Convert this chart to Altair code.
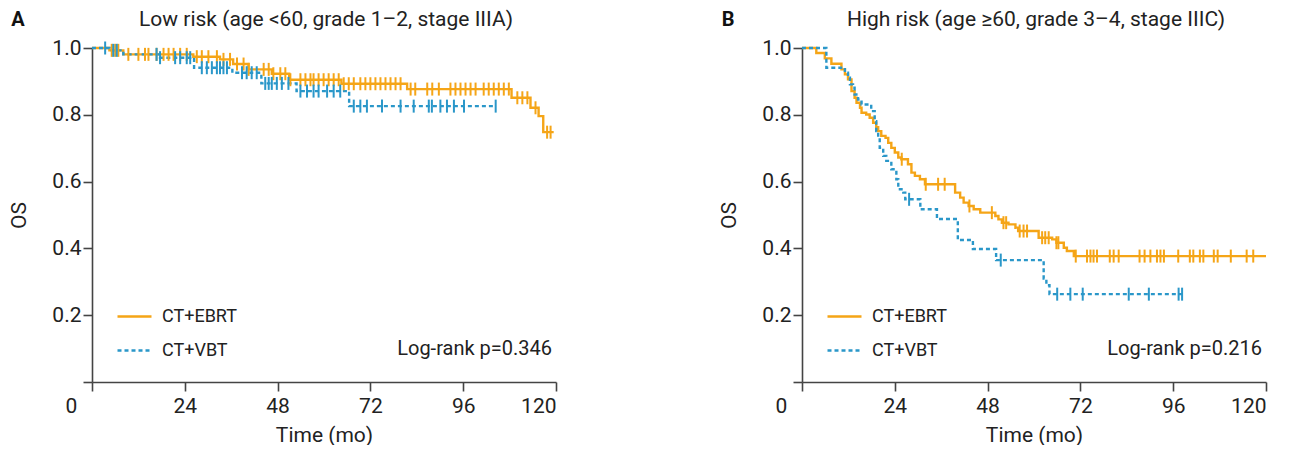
import altair as alt
import pandas as pd

ORANGE = "#F5A517"
BLUE = "#2A97C9"
GROUPS = ["CT+EBRT", "CT+VBT"]
FONT = "Roboto"

# ---------------- Panel A: Low risk ----------------
a_ebrt_t = [0, 4.5, 8.1, 26.2, 33.1, 36.5, 40.5, 46.5, 51.0, 64.5, 81.5, 108.5, 113.4, 115.5, 116.7, 119.4]
a_ebrt_s = [1.0, 0.993, 0.981, 0.974, 0.966, 0.952, 0.936, 0.923, 0.905, 0.893, 0.877, 0.851, 0.821, 0.796, 0.748, 0.748]
a_vbt_t = [0, 4.5, 8.1, 17.6, 26.4, 36.3, 43.8, 52.9, 66.5, 104.4]
a_vbt_s = [1.0, 0.993, 0.981, 0.971, 0.941, 0.926, 0.894, 0.871, 0.826, 0.826]
a_ebrt_cens = [5.1, 6.0, 6.8, 9.4, 12.0, 13.7, 14.6, 16.7, 18.5, 19.8, 21.1, 22.8, 24.5, 27.1, 28.4,
               30.1, 32.3, 34.0, 35.7, 37.5, 39.2, 40.5, 44.4, 45.7, 46.9, 48.7, 50.0, 51.3, 53.9,
               55.2, 56.5, 57.3, 58.6, 59.9, 61.2, 62.5, 63.8, 65.1, 66.4, 67.7, 69.4, 70.7, 72.0,
               73.3, 74.6, 75.9, 77.2, 78.5, 79.8, 82.4, 83.6, 86.7, 88.0, 89.7, 92.7, 94.0, 95.3,
               96.6, 97.9, 99.2, 101.3, 102.6, 103.9, 105.2, 106.5, 107.8, 110.0, 111.3, 112.6,
               114.7, 117.7, 118.6]
a_vbt_cens = [3.4, 5.5, 6.4, 16.7, 17.6, 21.5, 22.8, 24.5, 25.4, 28.4, 29.7, 31.0, 32.3, 33.1, 34.0,
              34.9, 38.8, 40.0, 41.3, 42.6, 44.8, 45.7, 46.5, 47.8, 49.1, 50.8, 53.9, 55.6, 57.3,
              58.6, 60.8, 62.5, 64.2, 67.7, 69.4, 71.1, 75.0, 79.8, 83.2, 87.1, 87.9, 90.1, 91.8,
              93.6, 96.2, 104.4]

# ---------------- Panel B: High risk ----------------
b_ebrt_t = [0, 3.7, 5.9, 7.6, 10.2, 11.1, 11.9, 12.8, 13.6, 14.1, 15.0, 15.4, 16.6, 17.5, 18.4, 19.2,
            19.7, 20.5, 21.6, 22.3, 23.1, 24.0, 24.9, 25.7, 27.4, 28.3, 29.2, 30.5, 31.8, 39.6, 40.9,
            41.8, 43.1, 44.4, 46.1, 50.0, 50.8, 51.7, 53.4, 55.2, 55.9, 61.2, 64.7, 65.8, 67.7, 68.5,
            70.3, 120.0]
b_ebrt_s = [1.0, 0.985, 0.969, 0.953, 0.936, 0.921, 0.906, 0.871, 0.851, 0.836, 0.821, 0.806, 0.801,
            0.791, 0.776, 0.763, 0.751, 0.737, 0.731, 0.716, 0.701, 0.687, 0.672, 0.667, 0.652, 0.627,
            0.617, 0.607, 0.592, 0.567, 0.552, 0.537, 0.527, 0.517, 0.507, 0.497, 0.487, 0.477, 0.472,
            0.462, 0.452, 0.432, 0.427, 0.417, 0.402, 0.392, 0.377, 0.377]
b_vbt_t = [0, 6.3, 11.1, 11.9, 12.4, 13.2, 13.6, 14.5, 15.4, 17.9, 18.8, 19.2, 19.7, 20.1, 21.0, 21.8,
           23.1, 24.4, 24.9, 26.2, 26.7, 30.6, 34.9, 40.3, 44.2, 50.2, 62.5, 63.2, 64.0, 98.3]
b_vbt_s = [1.0, 0.941, 0.926, 0.911, 0.891, 0.881, 0.861, 0.846, 0.831, 0.811, 0.781, 0.751, 0.731,
           0.701, 0.677, 0.662, 0.637, 0.607, 0.577, 0.567, 0.547, 0.517, 0.488, 0.425, 0.398, 0.365,
           0.310, 0.290, 0.263, 0.263]
b_ebrt_cens = [25.8, 32.0, 35.2, 36.9, 43.3, 49.1, 52.1, 52.8, 56.3, 57.3, 58.2, 62.1, 62.9, 63.8,
               65.8, 66.3, 70.8, 73.7, 74.6, 75.4, 76.3, 79.6, 80.6, 81.9, 87.3, 88.6, 90.1, 91.8,
               92.7, 93.6, 97.3, 100.3, 101.2, 102.9, 103.8, 106.5, 107.5, 110.9, 115.0, 116.7]
b_vbt_cens = [27.7, 51.4, 66.0, 69.4, 72.6, 84.5, 89.7, 97.4, 98.3]

x_ticks = [0, 24, 48, 72, 96, 120]
y_ticks = [0, 0.2, 0.4, 0.6, 0.8, 1.0]

W, H = 464, 334


def step_at(times, surv, t):
    s = surv[0]
    for ti, si in zip(times, surv):
        if ti <= t:
            s = si
        else:
            break
    return s


def panel(letter, title, pval, e_t, e_s, v_t, v_s, e_c, v_c):
    curves = pd.concat([
        pd.DataFrame({"t": e_t, "s": e_s, "g": GROUPS[0]}),
        pd.DataFrame({"t": v_t, "s": v_s, "g": GROUPS[1]}),
    ])
    cens = pd.concat([
        pd.DataFrame({"t": e_c, "s": [step_at(e_t, e_s, c) for c in e_c], "g": GROUPS[0]}),
        pd.DataFrame({"t": v_c, "s": [step_at(v_t, v_s, c) for c in v_c], "g": GROUPS[1]}),
    ])
    cscale = alt.Scale(domain=GROUPS, range=[ORANGE, BLUE])
    dscale = alt.Scale(domain=GROUPS, range=[[1, 0], [4, 3]])
    leg = dict(orient="none", legendX=24, legendY=250, title=None, symbolType="stroke",
               symbolSize=1156, symbolStrokeWidth=2.5, labelFontSize=18, labelFont=FONT,
               labelColor="#222", labelOffset=9, rowPadding=6, padding=0)
    x = alt.X("t:Q", scale=alt.Scale(domain=[0, 120], nice=False, zero=True),
              axis=alt.Axis(values=x_ticks, title="Time (mo)", labelOffset={
                  "condition": {"test": "datum.value == 0", "value": -27}, "value": 0}))
    y = alt.Y("s:Q", scale=alt.Scale(domain=[0, 1], nice=False),
              axis=alt.Axis(values=y_ticks, title="OS",
                            labelExpr="datum.value == 0 ? '' : format(datum.value, '.1f')"))
    base = alt.Chart(curves)
    lines = base.mark_line(interpolate="step-after", strokeWidth=2.4).encode(
        x=x, y=y,
        color=alt.Color("g:N", scale=cscale, legend=alt.Legend(**leg)),
        strokeDash=alt.StrokeDash("g:N", scale=dscale, legend=alt.Legend(**leg)),
        detail="g:N",
    )
    ticks = alt.Chart(cens).mark_rule(yOffset=-6.5, y2Offset=6.5, strokeWidth=2).encode(
        x="t:Q", y="s:Q", y2="s:Q",
        color=alt.Color("g:N", scale=cscale, legend=None),
    )
    ptext = alt.Chart(pd.DataFrame({"txt": [pval]})).mark_text(
        align="right", baseline="middle", fontSize=20, font=FONT, color="#222"
    ).encode(x=alt.value(W - 4), y=alt.value(301), text="txt:N")
    ltext = alt.Chart(pd.DataFrame({"txt": [letter]})).mark_text(
        align="center", baseline="middle", fontSize=20, font=FONT, fontWeight="bold", color="#111"
    ).encode(x=alt.value(-74), y=alt.value(-28), text="txt:N")
    ttext = alt.Chart(pd.DataFrame({"txt": [title]})).mark_text(
        align="center", baseline="middle", fontSize=21, font=FONT, color="#222"
    ).encode(x=alt.value(W / 2 + 2), y=alt.value(-28), text="txt:N")
    return alt.layer(lines, ticks, ptext, ltext, ttext).properties(
        width=W, height=H,
    ).resolve_legend(color="independent", strokeDash="independent")


pa = panel("A", "Low risk (age <60, grade 1\u20132, stage IIIA)", "Log-rank p=0.346",
           a_ebrt_t, a_ebrt_s, a_vbt_t, a_vbt_s, a_ebrt_cens, a_vbt_cens)
pb = panel("B", "High risk (age \u226560, grade 3\u20134, stage IIIC)", "Log-rank p=0.216",
           b_ebrt_t, b_ebrt_s, b_vbt_t, b_vbt_s, b_ebrt_cens, b_vbt_cens)

chart = alt.hconcat(pa, pb, spacing=159).resolve_legend(
    color="independent", strokeDash="independent"
).resolve_scale(color="independent", strokeDash="independent").configure_view(
    stroke=None
).configure_axis(
    grid=False, domainColor="#444", domainWidth=1.6, tickColor="#444", tickWidth=1.6,
    tickSize=9, labelFont=FONT, labelFontSize=21, labelColor="#222", titleFont=FONT,
    titleFontSize=21, titleFontWeight="normal", titleColor="#222",
).configure_axisX(labelPadding=4, titlePadding=8).configure_axisY(
    labelPadding=2, titlePadding=22
).properties(padding={"left": 0, "top": 1, "right": 0, "bottom": 0})

chart.save("out.html", embed_options={"renderer": "svg", "actions": False})
